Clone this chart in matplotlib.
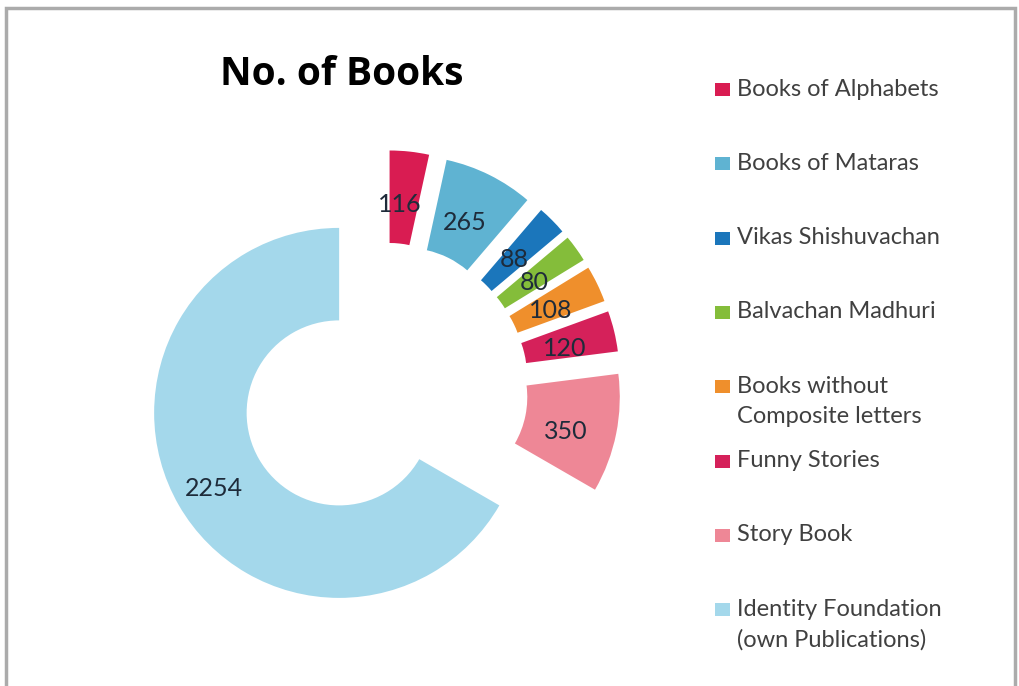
import matplotlib.pyplot as plt
from matplotlib.patches import Rectangle

# data
categories = ['Books of Alphabets', 'Books of Mataras', 'Vikas Shishuvachan',
              'Balvachan Madhuri', 'Books without\nComposite letters', 'Funny Stories',
              'Story Book', 'Identity Foundation\n(own Publications)']
books = [116, 265, 88, 80, 108, 120, 350, 2254]
colors = ['#D91C52', '#5FB3D2', '#1B76BB', '#84BD3A', '#EF8F2C', '#D5215A',
          '#EE8796', '#A4D8EB']

W, H = 1020, 686
fig = plt.figure(figsize=(W / 100, H / 100), dpi=100)
ax = fig.add_axes([0, 0, 1, 1])

# donut centre and radius in pixels
cx, cy, R = 384, 387, 185
total = sum(books)

wedges, texts, autotexts = ax.pie(
    books, colors=colors, startangle=90, counterclock=False,
    explode=[0.28] * len(books), radius=1, pctdistance=0.75,
    autopct=lambda p: f'{p * total / 100:.0f}',
    wedgeprops=dict(width=0.5, linewidth=0),
    textprops=dict(fontsize=18, color='#1E2B3A', family='Lato'))

# Excel sits its labels a touch lower/left than matplotlib does
for t in autotexts:
    x, y = t.get_position()
    t.set_position((x - 0.025, y - 0.035))

ax.set_xlim(-cx / R, (W - cx) / R)
ax.set_ylim(-(H - cy) / R, cy / R)
ax.set_aspect('auto')
ax.axis('off')

# title
fig.text(342 / W, 1 - 85 / H, 'No. of Books', ha='center', va='baseline',
         fontsize=28, fontweight='bold', family='Open Sans', color='black')

# legend, one entry every ~74 px, marker next to the first line
for i, (lab, col) in enumerate(zip(categories, colors)):
    base = 96 + 74.3 * i
    fig.add_artist(Rectangle((715 / W, 1 - base / H), 15 / W, 13 / H,
                             transform=fig.transFigure, facecolor=col,
                             edgecolor='none'))
    fig.text(737 / W, 1 - (base - 17.5) / H, lab, ha='left', va='top',
             fontsize=17, family='Lato', color='#404040', linespacing=1.55)

# chart frame
fig.add_artist(Rectangle((6 / W, -0.05), 1009 / W, 1.05 - 8 / H,
                         transform=fig.transFigure, facecolor='none',
                         edgecolor='#ABABAB', linewidth=2.5))

fig.savefig('out.png', dpi=100)
